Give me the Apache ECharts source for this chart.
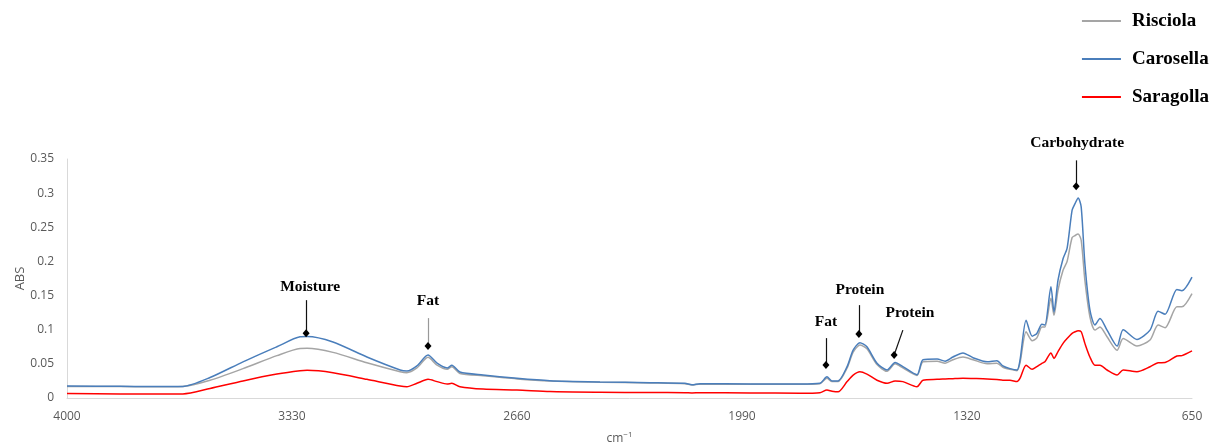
<!DOCTYPE html>
<html>
<head>
<meta charset="utf-8">
<title>FT-IR spectra</title>
<script src="https://cdn.jsdelivr.net/npm/echarts@6/dist/echarts.min.js"></script>
<style>
  html, body { margin: 0; padding: 0; background: #ffffff; }
  #chart { width: 1211px; height: 447px; }
</style>
</head>
<body>
<div id="chart"></div>
<script>
// Wavenumbers (cm-1) shared by the three spectra
const wavenumbers = [4000, 3842, 3753, 3655, 3574, 3476, 3375, 3306, 3285, 3208, 3107, 3008, 2988, 2958, 2925, 2898, 2868, 2854, 2830, 2761, 2660, 2562, 2413, 2264, 2160, 2139, 2115, 1966, 1817, 1758, 1737, 1722, 1704, 1677, 1659, 1639, 1618, 1588, 1558, 1534, 1511, 1469, 1451, 1409, 1385, 1362, 1332, 1302, 1260, 1231, 1213, 1192, 1171, 1162, 1144, 1126, 1112, 1097, 1088, 1070, 1061, 1049, 1034, 1022, 1007, 998, 989, 980, 969, 954, 939, 924, 903, 873, 855, 814, 775, 751, 730, 695, 680, 650];

// Absorbance per cultivar
const risciola = [0.017, 0.0168, 0.0165, 0.017, 0.026, 0.043, 0.062, 0.0726, 0.0728, 0.0668, 0.0516, 0.0385, 0.037, 0.044, 0.0595, 0.048, 0.042, 0.0458, 0.036, 0.0325, 0.028, 0.025, 0.0232, 0.022, 0.021, 0.019, 0.0205, 0.020, 0.020, 0.021, 0.029, 0.024, 0.024, 0.044, 0.067, 0.0775, 0.072, 0.049, 0.039, 0.050, 0.044, 0.033, 0.053, 0.054, 0.051, 0.056, 0.060, 0.056, 0.050, 0.051, 0.045, 0.042, 0.040, 0.052, 0.097, 0.0838, 0.088, 0.104, 0.104, 0.146, 0.121, 0.158, 0.187, 0.200, 0.235, 0.238, 0.240, 0.231, 0.1725, 0.119, 0.0994, 0.104, 0.0896, 0.070, 0.087, 0.076, 0.085, 0.107, 0.103, 0.1335, 0.1335, 0.153];

const carosella = [0.0175, 0.0172, 0.0168, 0.017, 0.030, 0.053, 0.075, 0.0896, 0.0900, 0.082, 0.060, 0.041, 0.0395, 0.047, 0.063, 0.051, 0.044, 0.048, 0.038, 0.0336, 0.0288, 0.0253, 0.0235, 0.0225, 0.0215, 0.0195, 0.021, 0.0205, 0.0205, 0.0215, 0.031, 0.025, 0.025, 0.046, 0.070, 0.081, 0.075, 0.051, 0.041, 0.052, 0.046, 0.034, 0.056, 0.057, 0.054, 0.060, 0.066, 0.059, 0.053, 0.0545, 0.047, 0.043, 0.041, 0.056, 0.114, 0.0906, 0.0946, 0.108, 0.107, 0.163, 0.126, 0.1725, 0.204, 0.219, 0.275, 0.285, 0.293, 0.280, 0.197, 0.129, 0.107, 0.1165, 0.0994, 0.076, 0.100, 0.0858, 0.0994, 0.127, 0.1228, 0.159, 0.157, 0.177];

const saragolla = [0.0065, 0.006, 0.006, 0.006, 0.014, 0.025, 0.035, 0.040, 0.0405, 0.037, 0.0273, 0.0175, 0.0165, 0.0215, 0.0273, 0.024, 0.0205, 0.0215, 0.0165, 0.013, 0.0117, 0.0095, 0.0085, 0.008, 0.0078, 0.0075, 0.0078, 0.0075, 0.007, 0.0078, 0.0117, 0.010, 0.009, 0.024, 0.0336, 0.0385, 0.035, 0.026, 0.0215, 0.025, 0.024, 0.0165, 0.026, 0.0273, 0.0278, 0.0283, 0.0288, 0.0285, 0.028, 0.027, 0.026, 0.026, 0.024, 0.029, 0.048, 0.042, 0.046, 0.0507, 0.053, 0.066, 0.058, 0.068, 0.080, 0.087, 0.0946, 0.097, 0.0985, 0.097, 0.080, 0.060, 0.048, 0.048, 0.041, 0.0336, 0.041, 0.0385, 0.0458, 0.0516, 0.052, 0.0614, 0.062, 0.069];

// Axis ticks
const xTicks = [4000, 3330, 2660, 1990, 1320, 650];
const yTicks = [0, 0.05, 0.1, 0.15, 0.2, 0.25, 0.3, 0.35];

// Band assignments: label anchor, arrow start and arrow tip (wavenumber, ABS)
const bandNames = ['Moisture', 'Fat', 'Fat', 'Protein', 'Protein', 'Carbohydrate'];
const bandLabelAt = [[3276, 0.162], [2925, 0.1418], [1740, 0.1111], [1639, 0.1579], [1490, 0.1243], [992, 0.3728]];
const bandArrowFrom = [[3288, 0.1433], [2925, 0.117], [1740, 0.0877], [1642, 0.136], [1511, 0.0994], [995, 0.348]];
const bandArrowTo = [[3288, 0.095], [2925, 0.076], [1740, 0.0482], [1642, 0.0936], [1537, 0.0629], [995, 0.31]];

const names = ['Risciola', 'Carosella', 'Saragolla'];
const colors = ['#a5a5a5', '#4a7ebb', '#ff0000'];
const spectra = [risciola, carosella, saragolla];

const chart = echarts.init(document.getElementById('chart'));

const serifFont = 'Liberation Serif, DejaVu Serif, serif';
const labelFont = 'Liberation Sans Narrow, Open Sans, sans-serif';

const lineSeries = spectra.map((vals, s) => ({
  name: names[s],
  type: 'line',
  data: wavenumbers.map((w, i) => [w, vals[i]]),
  showSymbol: false,
  symbol: 'none',
  smooth: 0.25,
  lineStyle: { width: 1.5, color: colors[s] },
  itemStyle: { color: colors[s] },
  emphasis: { disabled: true },
  z: 2 + s
}));

// Band names with their arrow shafts
const bandLabelSeries = {
  name: 'bands',
  type: 'scatter',
  clip: false,
  symbolSize: 0,
  silent: true,
  itemStyle: { opacity: 1 },
  data: bandNames.map((n, i) => ({ value: bandLabelAt[i], name: n })),
  label: {
    show: true,
    position: 'inside',
    formatter: p => p.name,
    fontFamily: serifFont,
    fontWeight: 'bold',
    fontSize: 15.5,
    color: '#000',
    opacity: 1,
    textBorderWidth: 0
  },
  markLine: {
    silent: true,
    animation: false,
    symbol: ['none', 'none'],
    label: { show: false },
    lineStyle: { color: '#111', width: 1.2, type: 'solid', opacity: 1 },
    data: bandNames.map((n, i) => [
      { coord: bandArrowFrom[i], lineStyle: i === 1 ? { color: '#999' } : undefined },
      { coord: bandArrowTo[i] }
    ])
  },
  z: 10
};

// Diamond heads at the arrow tips
const bandTipSeries = {
  name: 'tips',
  type: 'scatter',
  clip: false,
  silent: true,
  symbol: 'diamond',
  symbolSize: [7, 8],
  itemStyle: { color: '#000', opacity: 1 },
  data: bandArrowTo,
  z: 11
};

chart.setOption({
  animation: false,
  backgroundColor: '#ffffff',
  grid: { left: 67, right: 19, top: 159, bottom: 49, containLabel: false, outerBoundsMode: 'none' },
  legend: {
    data: names,
    orient: 'vertical',
    right: 2,
    top: 10,
    padding: 0,
    itemGap: 16,
    itemWidth: 39,
    itemHeight: 2,
    icon: 'rect',
    selectedMode: false,
    textStyle: {
      fontFamily: serifFont,
      fontWeight: 'bold',
      fontSize: 19,
      lineHeight: 22,
      color: '#000',
      padding: [0, 0, 0, 6]
    }
  },
  xAxis: {
    type: 'value',
    inverse: true,
    min: 650,
    max: 4000,
    name: '{a|cm}{b|−1}',
    nameLocation: 'middle',
    nameGap: 33,
    nameMoveOverlap: false,
    nameTextStyle: {
      padding: [0, 20, 0, 0],
      rich: {
        a: { fontFamily: labelFont, fontSize: 12, color: '#595959' },
        b: { fontFamily: labelFont, fontSize: 8, color: '#595959', padding: [0, 0, 8, 0] }
      }
    },
    axisLine: { show: true, lineStyle: { color: '#d9d9d9', width: 1 } },
    axisTick: { show: false },
    splitLine: { show: false },
    axisLabel: {
      customValues: xTicks,
      margin: 13,
      fontFamily: labelFont,
      fontSize: 12,
      color: '#595959',
      formatter: v => String(v)
    }
  },
  yAxis: {
    type: 'value',
    min: yTicks[0],
    max: yTicks[yTicks.length - 1],
    interval: 0.05,
    name: 'ABS',
    nameLocation: 'middle',
    nameGap: 40,
    nameMoveOverlap: false,
    nameTextStyle: { fontFamily: labelFont, fontSize: 13, color: '#595959' },
    axisLine: { show: true, lineStyle: { color: '#d9d9d9', width: 1 } },
    axisTick: { show: false },
    splitLine: { show: false },
    axisLabel: {
      margin: 13,
      fontFamily: labelFont,
      fontSize: 12,
      color: '#595959',
      formatter: v => String(+v.toFixed(2))
    }
  },
  series: [...lineSeries, bandLabelSeries, bandTipSeries]
});
</script>
</body>
</html>
